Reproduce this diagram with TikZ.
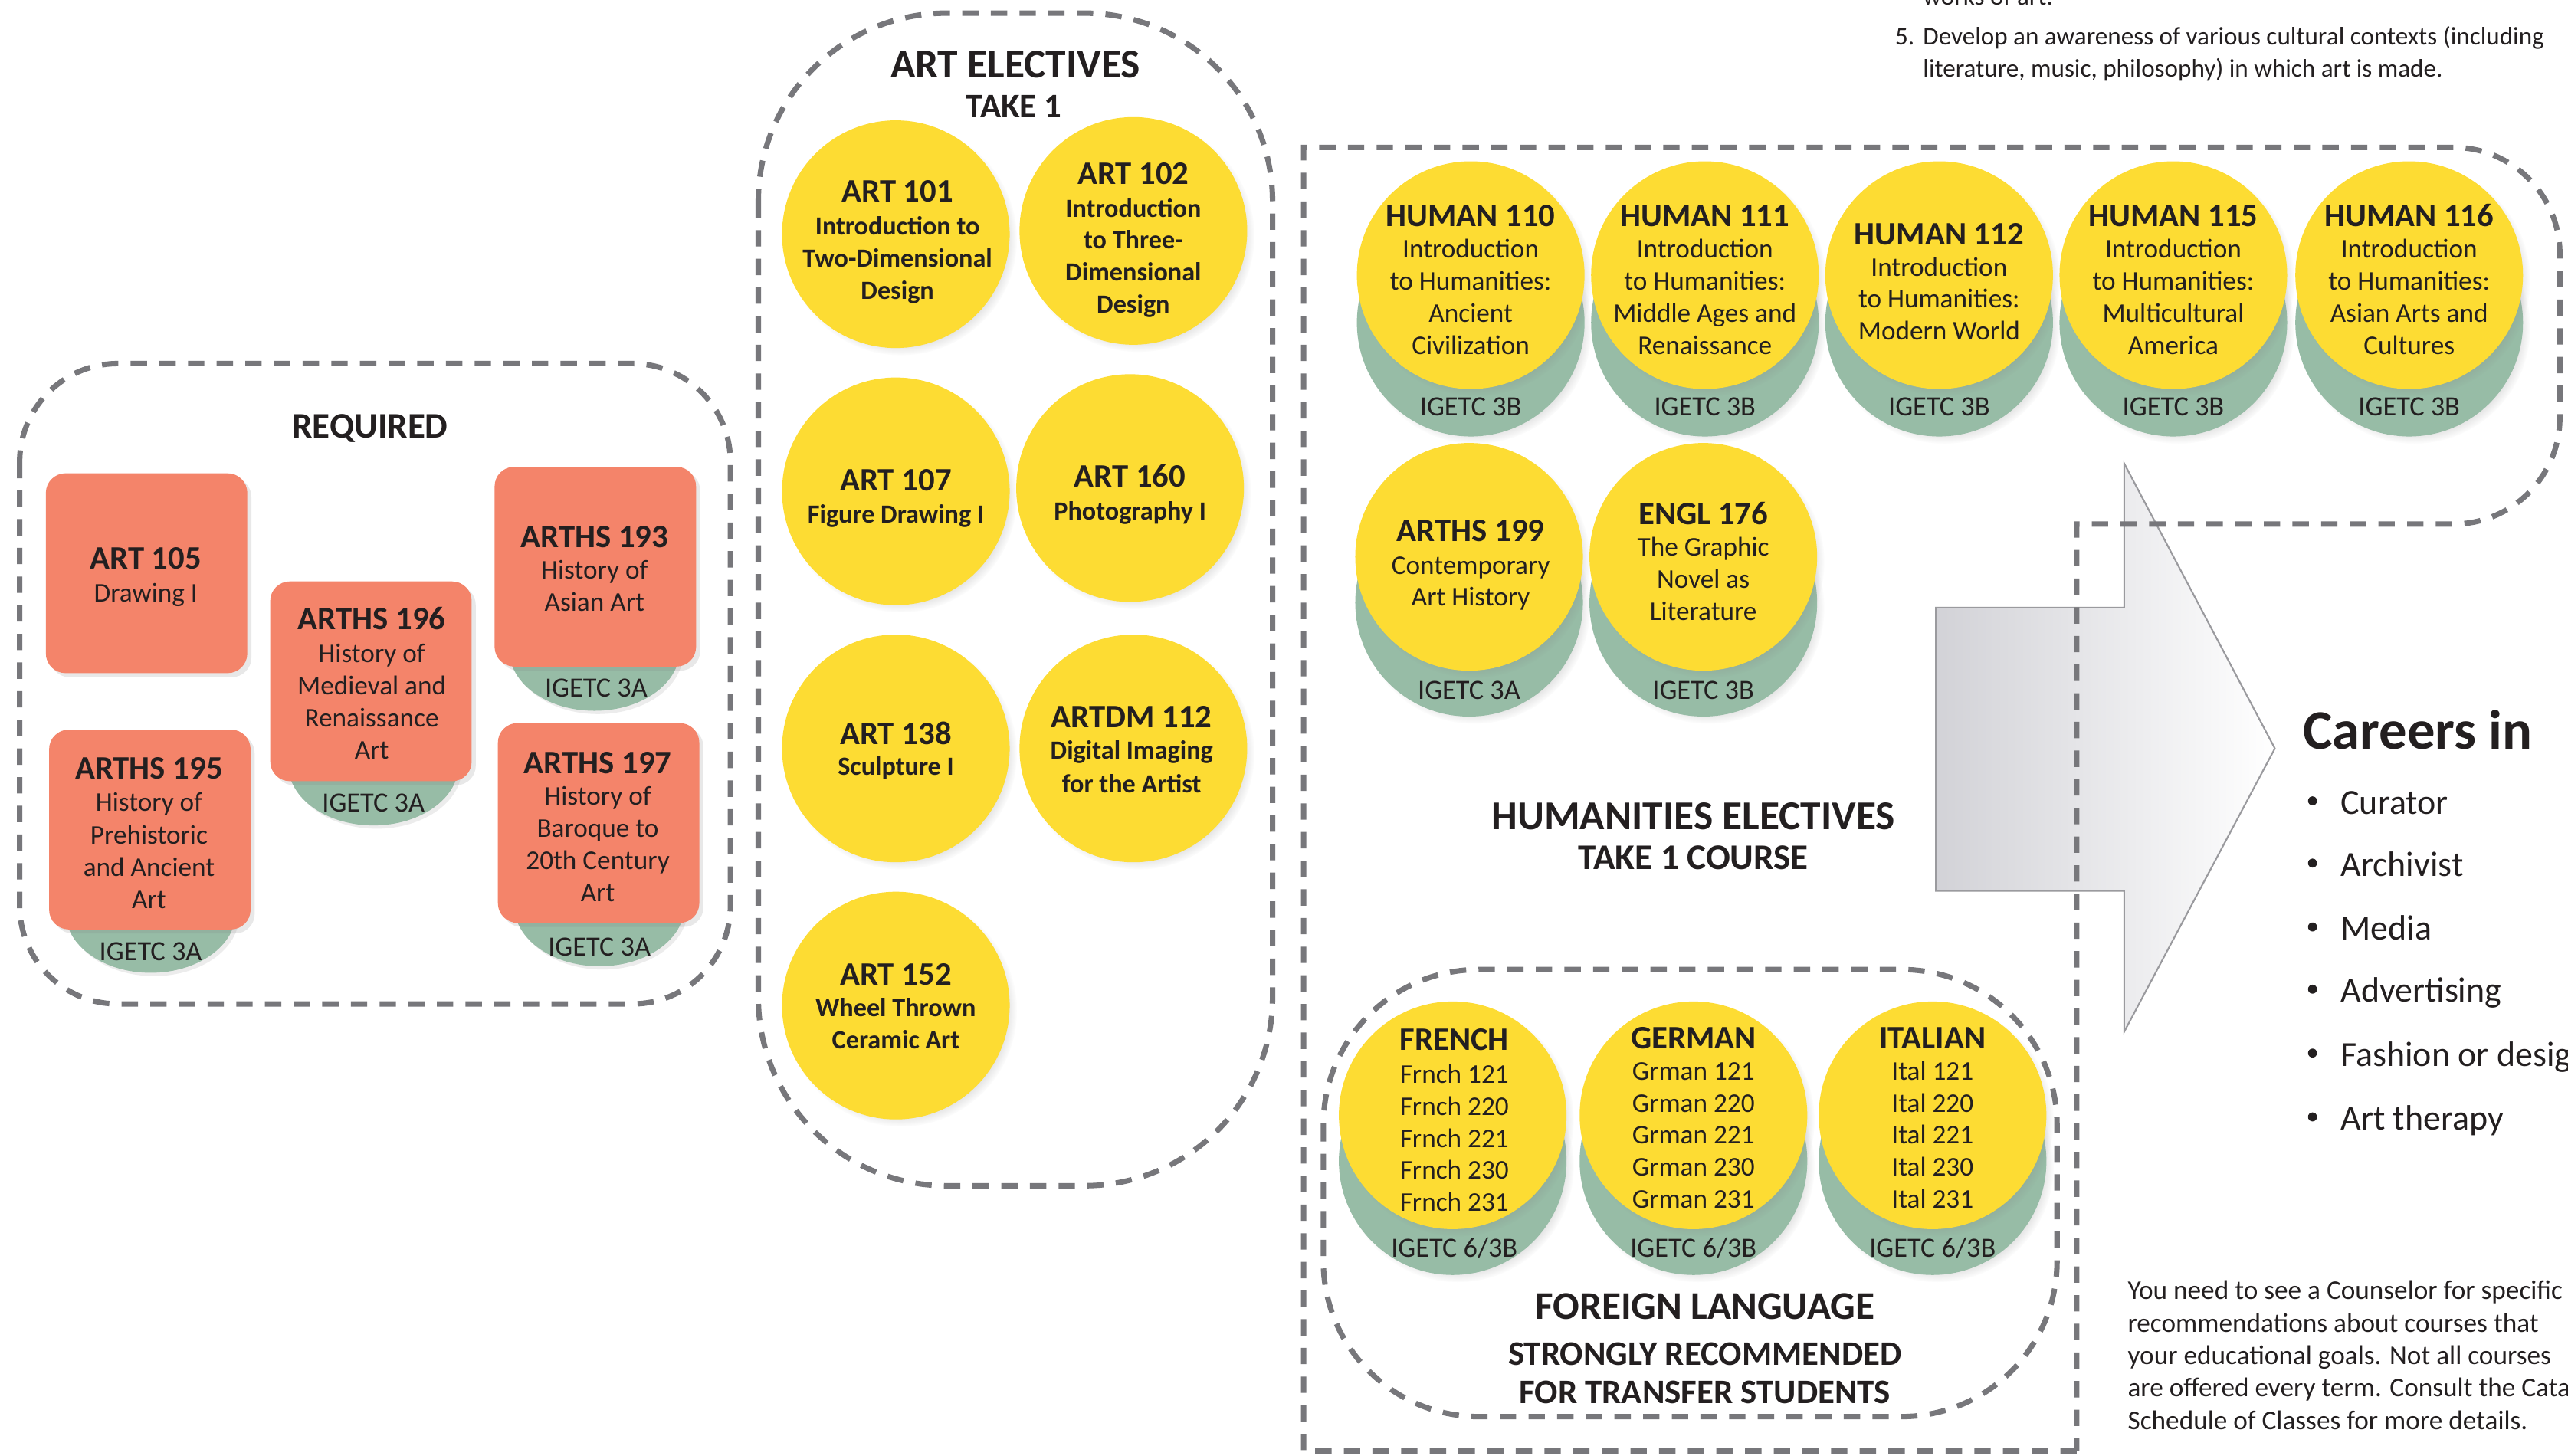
\documentclass[tikz,border=0pt]{standalone}
\usepackage{fontspec}
\setmainfont{Carlito}
\usetikzlibrary{shadows,shapes.geometric}
\definecolor{yellowc}{HTML}{FDDC33}
\definecolor{greenc}{HTML}{97BCA6}
\definecolor{orangec}{HTML}{F4846A}
\definecolor{dashc}{HTML}{77777B}
\definecolor{textc}{HTML}{231F20}
\definecolor{arrowl}{HTML}{D2D2D7}
\definecolor{arrowline}{HTML}{9A9A9E}
\newcommand{\blk}[6]{\foreach \myline [count=\mycnt] in {#6}{\node[#5] (#1\mycnt) at (#2,{#3+(\mycnt-1)*#4}) {\myline};}}
\begin{document}
\begin{tikzpicture}[x=1pt,y=-1pt,
  dashbox/.style={draw=dashc, line width=3.3pt, dash pattern=on 10pt off 7.5pt},
  ycirc/.style={circle, fill=yellowc, minimum size=139pt, inner sep=0pt,
    circular drop shadow={shadow xshift=3pt, shadow yshift=-3pt, opacity=0.35, shadow scale=1.02}},
  gcirc/.style={circle, fill=greenc, minimum size=139pt, inner sep=0pt,
    circular drop shadow={shadow xshift=3pt, shadow yshift=-3pt, opacity=0.35, shadow scale=1.02}},
  obox/.style={rectangle, rounded corners=12pt, fill=orangec, minimum width=123pt, minimum height=122pt, inner sep=0pt,
    drop shadow={shadow xshift=2.5pt, shadow yshift=-2.5pt, opacity=0.18}},
  gell/.style={ellipse, fill=greenc, minimum width=104pt, minimum height=74pt, inner sep=0pt,
    drop shadow={shadow xshift=2pt, shadow yshift=-2pt, opacity=0.15}},
  txt/.style={text=textc, inner sep=0pt, yshift=-2.5pt},
  ttl/.style={txt, font=\fontsize{20}{22}\selectfont\bfseries, text height=14pt, text depth=4pt},
  bdy/.style={txt, font=\fontsize{16.5}{18}\selectfont, text height=11.5pt, text depth=3.5pt},
  bdyb/.style={txt, font=\fontsize{16}{18}\selectfont\bfseries, text height=11.5pt, text depth=3.5pt},
  igl/.style={txt, font=\fontsize{17}{19}\selectfont, text height=12pt, text depth=3.5pt},
  hd/.style={txt, font=\fontsize{24}{26}\selectfont\bfseries, text height=16pt, text depth=4pt},
  hds/.style={txt, font=\fontsize{21}{23}\selectfont\bfseries, text height=14.5pt, text depth=4pt},
  car/.style={txt, font=\fontsize{21.5}{24}\selectfont, anchor=west, text height=15pt, text depth=4pt},
  note/.style={txt, font=\fontsize{16.5}{18}\selectfont, anchor=west, text height=11.5pt, text depth=3.5pt},
  topn/.style={txt, font=\fontsize{15.5}{18}\selectfont, anchor=west, text height=11pt, text depth=3.5pt},
  bul/.style={circle, fill=textc, minimum size=5.5pt, inner sep=0pt}
]
\useasboundingbox (0,0) rectangle (1568,889);
\clip (0,0) rectangle (1568,889);
\fill[white] (0,0) rectangle (1568,889);

% ---------- arrow ----------
\path[draw=arrowline, line width=1pt, left color=arrowl, right color=white]
  (1182,371) -- (1297,371) -- (1297,283) -- (1389,457) -- (1297,630) -- (1297,544) -- (1182,544) -- cycle;

% ---------- dashed outlines ----------
\draw[dashbox, rounded corners=60pt] (12,222) rectangle (446,613);
\draw[dashbox, rounded corners=115pt] (463,8) rectangle (777,724);
\draw[dashbox] (1268,886) -- (796,886) -- (796,90) -- (1498,90)
  arc[start angle=-90, end angle=0, radius=65] -- (1563,255)
  arc[start angle=0, end angle=90, radius=65] -- (1268,320) -- cycle;
\draw[dashbox, rounded corners=95pt] (808,592) rectangle (1256,865);

% ---------- REQUIRED ----------
\node[hd, font=\fontsize{22}{24}\selectfont\bfseries] (req) at (226,259) {REQUIRED};

\node[gell] (g196) at (228,467) {};
\node[gell] (g193) at (363,397) {};
\node[gell] (g195) at (92,557) {};
\node[gell] (g197) at (366,553) {};
\node[obox] (b105) at (89.5,350) {};
\node[obox] (b196) at (226.5,416) {};
\node[obox] (b193) at (363.5,346) {};
\node[obox] (b195) at (91.5,506.5) {};
\node[obox] (b197) at (365.5,502.5) {};

\node[ttl] (t105) at (89,340) {ART 105};
\blk{l105-}{89}{361}{19.7}{bdy}{Drawing I}
\node[ttl] (t196) at (227,377) {ARTHS 196};
\blk{l196-}{227}{398}{19.7}{bdy}{History of,Medieval and,Renaissance,Art}
\node[igl] (i196) at (228,489) {IGETC 3A};
\node[ttl] (t193) at (363,327) {ARTHS 193};
\blk{l193-}{363}{347}{19.7}{bdy}{History of,Asian Art}
\node[igl] (i193) at (364,419) {IGETC 3A};
\node[ttl] (t195) at (91,468) {ARTHS 195};
\blk{l195-}{91}{489}{19.7}{bdy}{History of,Prehistoric,and Ancient,Art}
\node[igl] (i195) at (92,580) {IGETC 3A};
\node[ttl] (t197) at (365,465) {ARTHS 197};
\blk{l197-}{365}{485}{19.7}{bdy}{History of,Baroque to,20th Century,Art}
\node[igl] (i197) at (366,577) {IGETC 3A};

% ---------- ART ELECTIVES ----------
\node[hd, font=\fontsize{25}{27}\selectfont\bfseries] (ae) at (620,39) {ART ELECTIVES};
\node[hds] (ae2) at (619,64) {TAKE 1};

\node[ycirc] (c101) at (547,143) {};
\node[ycirc] (c102) at (692,141) {};
\node[ycirc] (c107) at (547,300) {};
\node[ycirc] (c160) at (690,298) {};
\node[ycirc] (c138) at (547,457) {};
\node[ycirc] (c112) at (692,457) {};
\node[ycirc] (c152) at (547,614) {};

\node[ttl] (t101) at (548,116) {ART 101};
\blk{l101-}{548}{137}{19.7}{bdyb}{Introduction to,Two-Dimensional,Design}
\node[ttl] (t102) at (692,105) {ART 102};
\blk{l102-}{692}{126}{19.5}{bdyb}{Introduction,to Three-,Dimensional,Design}
\node[ttl] (t107) at (547,292) {ART 107};
\blk{l107-}{547}{313}{19.7}{bdyb}{Figure Drawing I}
\node[ttl] (t160) at (690,290) {ART 160};
\blk{l160-}{690}{311}{19.7}{bdyb}{Photography I}
\node[ttl] (t138) at (547,447) {ART 138};
\blk{l138-}{547}{467}{19.7}{bdyb}{Sculpture I}
\node[ttl] (t112) at (691,437) {ARTDM 112};
\blk{l112-}{691}{457}{20.5}{bdyb}{Digital Imaging,for the Artist}
\node[ttl] (t152) at (547,594) {ART 152};
\blk{l152-}{547}{614}{19.7}{bdyb}{Wheel Thrown,Ceramic Art}

% ---------- HUMANITIES ----------
\foreach \cx/\nm in {898/h110,1041/h111,1184/h112,1327/h115,1471/h116}{
  \node[gcirc] (\nm g) at (\cx,197) {};
  \node[ycirc] (\nm y) at (\cx,168) {};
}
\node[gcirc] (h199g) at (897,368) {};
\node[ycirc] (h199y) at (897,340) {};
\node[gcirc] (h176g) at (1040,368) {};
\node[ycirc] (h176y) at (1040,340) {};

\node[ttl] (t110) at (898,131) {HUMAN 110};
\blk{l110-}{898}{151}{19.7}{bdy}{Introduction,to Humanities:,Ancient,Civilization}
\node[igl] (i110) at (898,247) {IGETC 3B};
\node[ttl] (t111) at (1041,131) {HUMAN 111};
\blk{l111-}{1041}{151}{19.7}{bdy}{Introduction,to Humanities:,Middle Ages and,Renaissance}
\node[igl] (i111) at (1041,247) {IGETC 3B};
\node[ttl] (t112h) at (1184,142) {HUMAN 112};
\blk{l112h-}{1184}{162}{19.5}{bdy}{Introduction,to Humanities:,Modern World}
\node[igl] (i112) at (1184,247) {IGETC 3B};
\node[ttl] (t115) at (1327,131) {HUMAN 115};
\blk{l115-}{1327}{151}{19.7}{bdy}{Introduction,to Humanities:,Multicultural,America}
\node[igl] (i115) at (1327,247) {IGETC 3B};
\node[ttl] (t116) at (1471,131) {HUMAN 116};
\blk{l116-}{1471}{151}{19.7}{bdy}{Introduction,to Humanities:,Asian Arts and,Cultures}
\node[igl] (i116) at (1471,247) {IGETC 3B};
\node[ttl] (t199) at (898,323) {ARTHS 199};
\blk{l199-}{898}{344}{19.5}{bdy}{Contemporary,Art History}
\node[igl] (i199) at (897,420) {IGETC 3A};
\node[ttl] (t176) at (1040,313) {ENGL 176};
\blk{l176-}{1040}{333}{19.7}{bdy}{The Graphic,Novel as,Literature}
\node[igl] (i176) at (1040,420) {IGETC 3B};

\node[hd, font=\fontsize{25}{27}\selectfont\bfseries] (he) at (1034,498) {HUMANITIES ELECTIVES};
\node[hds, font=\fontsize{22}{24}\selectfont\bfseries] (he2) at (1034,523) {TAKE 1 COURSE};

% ---------- FOREIGN LANGUAGE ----------
\foreach \cx/\nm in {887/fr,1034/ge,1180/it}{
  \node[gcirc] (\nm g) at (\cx,709) {};
  \node[ycirc] (\nm y) at (\cx,681) {};
}
\node[ttl] (tfr) at (888,634) {FRENCH};
\blk{lfr-}{888}{655}{19.5}{bdy}{Frnch 121,Frnch 220,Frnch 221,Frnch 230,Frnch 231}
\node[igl] (ifr) at (888,761) {IGETC 6/3B};
\node[ttl] (tge) at (1034,633) {GERMAN};
\blk{lge-}{1034}{653}{19.5}{bdy}{Grman 121,Grman 220,Grman 221,Grman 230,Grman 231}
\node[igl] (ige) at (1034,761) {IGETC 6/3B};
\node[ttl] (tit) at (1180,633) {ITALIAN};
\blk{lit-}{1180}{653}{19.5}{bdy}{Ital 121,Ital 220,Ital 221,Ital 230,Ital 231}
\node[igl] (iit) at (1180,761) {IGETC 6/3B};

\node[hd] (fl) at (1041,797) {FOREIGN LANGUAGE};
\node[hds] (fl2) at (1041,826) {STRONGLY RECOMMENDED};
\node[hds] (fl3) at (1041,849) {FOR TRANSFER STUDENTS};

% ---------- CAREERS ----------
\node[txt, font=\fontsize{34}{36}\selectfont\bfseries, anchor=west, text height=24pt, text depth=6pt] (car) at (1406,446) {Careers in};
\foreach \yy/\txt [count=\n] in {489/Curator,527/Archivist,566/Media,604/Advertising,643/Fashion or design,682/Art therapy}{
  \node[bul] (bu\n) at (1412,\yy) {};
  \node[car] (ca\n) at (1429,\yy) {\txt};
}

% ---------- notes ----------
\blk{cn-}{1299}{787}{19.8}{note}{You need to see a Counselor for specific,recommendations about courses that,your educational goals. Not all courses,are offered every term. Consult the Catalog,Schedule of Classes for more details.}

\node[topn] (w0) at (1174,-3) {works of art.};
\node[topn] (n5) at (1157,21) {5.};
\node[topn] (w1) at (1174,21) {Develop an awareness of various cultural contexts (including};
\node[topn] (w2) at (1174,41) {literature, music, philosophy) in which art is made.};
\end{tikzpicture}
\end{document}
